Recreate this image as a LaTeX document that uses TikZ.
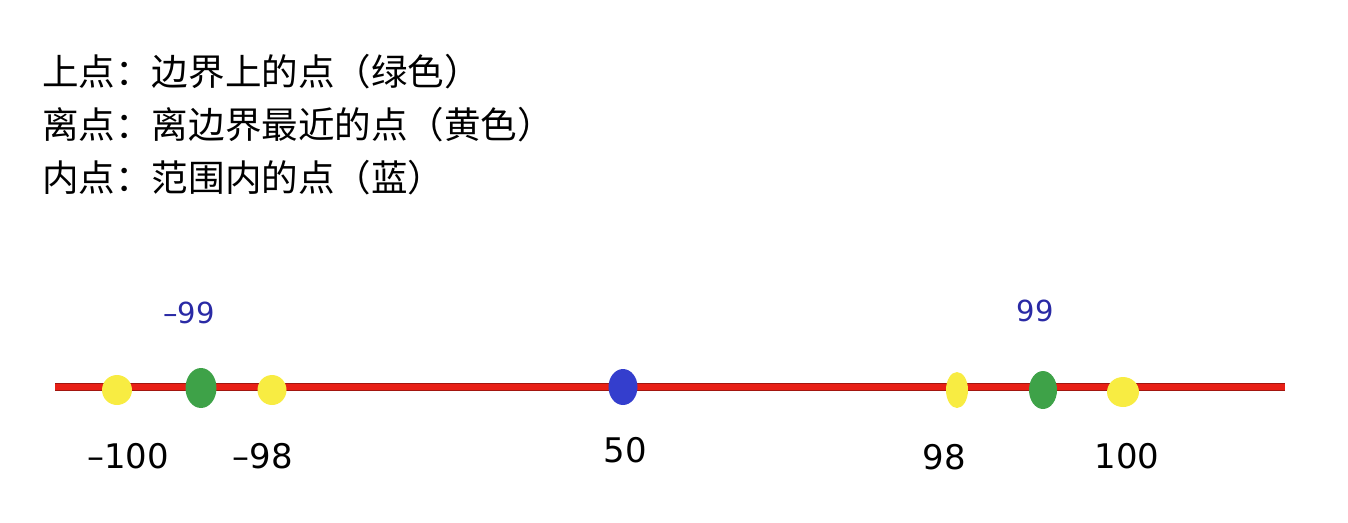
\documentclass[tikz,border=0pt]{standalone}
\usepackage{fontspec}
\setmainfont{DejaVu Sans}
\newfontfamily\cjkfont{Noto Sans CJK SC}
\usetikzlibrary{shapes.geometric, positioning}
\definecolor{dotyellow}{RGB}{248,236,66}
\definecolor{dotgreen}{RGB}{62,162,72}
\definecolor{dotblue}{RGB}{52,62,205}
\definecolor{numblue}{RGB}{42,42,165}
\definecolor{axisred}{RGB}{232,32,22}

\begin{document}
\begin{tikzpicture}[x=0.02cm, y=-0.02cm,
    legend/.style={anchor=west, inner sep=0pt, font=\cjkfont\fontsize{20.8pt}{24pt}\selectfont},
    dot/.style={ellipse, inner sep=0pt, draw=none},
    num/.style={inner sep=0pt, font=\fontsize{19.3pt}{22pt}\selectfont},
    bound/.style={inner sep=0pt, text=numblue, font=\fontsize{16.5pt}{19pt}\selectfont},
    axis/.style={draw=axisred!70!black, line width=0.6pt, double=axisred, double distance=3pt}]
    \useasboundingbox (0,0) rectangle (1348,522);
    % legend
    \node [legend] (on) at (42,72) {上点：边界上的点（绿色）};
    \node [legend] (off) at (42,125) {离点：离边界最近的点（黄色）};
    \node [legend] (in) at (42,178) {内点：范围内的点（蓝）};
    % number line
    \coordinate (left) at (55,387);
    \coordinate (right) at (1285,387);
    \draw [axis] (left) -- (right);
    \node [dot, fill=dotyellow, minimum width=0.60cm, minimum height=0.60cm] (m100) at (117,390) {};
    \node [dot, fill=dotgreen, minimum width=0.62cm, minimum height=0.80cm] (m99) at (201,388) {};
    \node [dot, fill=dotyellow, minimum width=0.58cm, minimum height=0.60cm] (m98) at (272,390) {};
    \node [dot, fill=dotblue, minimum width=0.58cm, minimum height=0.72cm] (p50) at (623,387) {};
    \node [dot, fill=dotyellow, minimum width=0.44cm, minimum height=0.72cm] (p98) at (957,390) {};
    \node [dot, fill=dotgreen, minimum width=0.56cm, minimum height=0.76cm] (p99) at (1043,390) {};
    \node [dot, fill=dotyellow, minimum width=0.64cm, minimum height=0.60cm] (p100) at (1123,392) {};
    % values
    \node [bound] (lm99) at (189,313) {–99};
    \node [bound] (lp99) at (1035,311) {99};
    \node [num] (lm100) at (128,456) {–100};
    \node [num] (lm98) at (263,456) {–98};
    \node [num] (lp50) at (625,450) {50};
    \node [num] (lp98) at (944,457) {98};
    \node [num] (lp100) at (1127,456) {100};
\end{tikzpicture}
\end{document}
